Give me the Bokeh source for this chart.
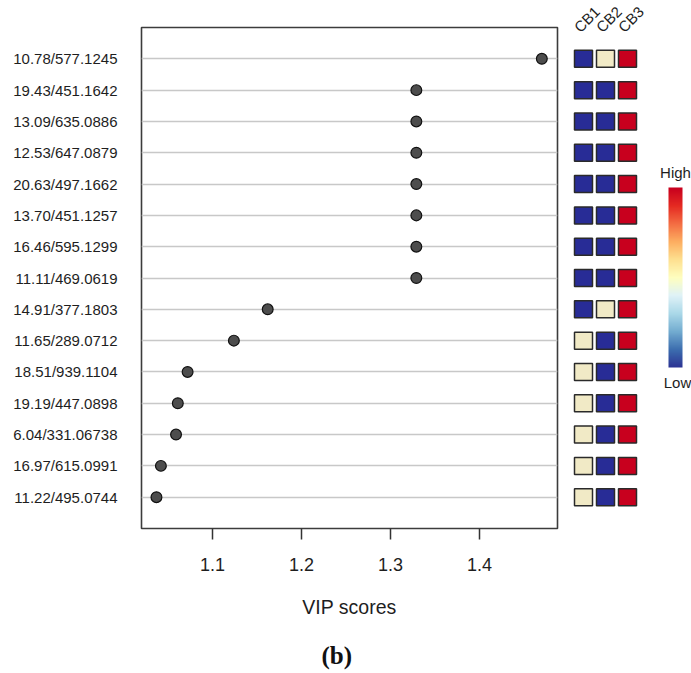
import math
from bokeh.plotting import figure
from bokeh.layouts import row, column
from bokeh.models import Range1d, FixedTicker, Label, ColorBar, LinearColorMapper, ColumnDataSource, Title
from bokeh.palettes import interp_palette
from bokeh.embed import file_html
from bokeh.resources import INLINE

# ---------------- data ----------------
features = [
    "10.78/577.1245", "19.43/451.1642", "13.09/635.0886", "12.53/647.0879",
    "20.63/497.1662", "13.70/451.1257", "16.46/595.1299", "11.11/469.0619",
    "14.91/377.1803", "11.65/289.0712", "18.51/939.1104", "19.19/447.0898",
    "6.04/331.06738", "16.97/615.0991", "11.22/495.0744",
]
vip = [1.470, 1.329, 1.329, 1.329, 1.329, 1.329, 1.329, 1.329,
       1.162, 1.124, 1.072, 1.061, 1.059, 1.042, 1.037]
groups = ["CB1", "CB2", "CB3"]
# relative level per group: 1 = low, 2 = middle, 3 = high
cb1 = [1, 1, 1, 1, 1, 1, 1, 1, 1, 2, 2, 2, 2, 2, 2]
cb2 = [2, 1, 1, 1, 1, 1, 1, 1, 2, 1, 1, 1, 1, 1, 1]
cb3 = [3, 3, 3, 3, 3, 3, 3, 3, 3, 3, 3, 3, 3, 3, 3]
x_ticks = [1.1, 1.2, 1.3, 1.4]

n = len(features)
ypos = [n - i for i in range(n)]

FONT = "Liberation Sans"
TXT = "#1e1e1e"

TOP, FRAME_H, H = 27, 501, 673
px_per_row = FRAME_H / (n + 1)

# ---------------- main dot plot ----------------
p = figure(frame_width=416, frame_height=FRAME_H, x_range=Range1d(1.0202, 1.4876),
           y_range=Range1d(0, n + 1), output_backend="svg", toolbar_location=None,
           min_border_left=141, min_border_right=3, min_border_top=TOP,
           min_border_bottom=H - TOP - FRAME_H)
p.outline_line_color = "#3c3c3c"
p.outline_line_width = 1.6
p.background_fill_color = "white"
p.border_fill_color = "white"

p.xgrid.visible = False
p.ygrid.ticker = FixedTicker(ticks=ypos)
p.ygrid.grid_line_color = "#c8c8c8"
p.ygrid.grid_line_width = 1.3

p.scatter(x=vip, y=ypos, size=10.8, fill_color="#4d4d4d", line_color="#111111", line_width=1.2)

ya = p.yaxis[0]
ya.ticker = FixedTicker(ticks=ypos)
ya.major_label_overrides = {y: f for y, f in zip(ypos, features)}
ya.axis_line_color = None
ya.major_tick_line_color = None
ya.major_tick_out = 0
ya.major_tick_in = 0
ya.minor_tick_line_color = None
ya.major_label_standoff = 24
ya.major_label_text_font = FONT
ya.major_label_text_font_size = "15px"
ya.major_label_text_color = TXT

xa = p.xaxis[0]
xa.ticker = FixedTicker(ticks=x_ticks)
xa.axis_line_color = None
xa.major_tick_out = 11
xa.major_tick_in = 0
xa.major_tick_line_color = "#333333"
xa.major_tick_line_width = 1.5
xa.minor_tick_line_color = None
xa.major_label_standoff = 18
xa.major_label_text_font = FONT
xa.major_label_text_font_size = "18px"
xa.major_label_text_color = TXT
xa.axis_label = "VIP scores"
xa.axis_label_text_font = FONT
xa.axis_label_text_font_style = "normal"
xa.axis_label_text_font_size = "19.5px"
xa.axis_label_text_color = TXT
xa.axis_label_standoff = 22

p.add_layout(Title(text="(b)", align="left", offset=180, standoff=38,
                   text_font="Liberation Serif", text_font_style="bold",
                   text_font_size="25px", text_color="#111111"), "below")

# ---------------- heatmap + colour bar ----------------
unit = 22.0
y_lo = -(H - TOP - FRAME_H) / px_per_row
y_hi = (n + 1) + TOP / px_per_row
h = figure(frame_width=131, frame_height=H, x_range=Range1d(-23 / unit, (131 - 23) / unit),
           y_range=Range1d(y_lo, y_hi), output_backend="svg", toolbar_location=None,
           title=None,
           min_border_left=0, min_border_right=0, min_border_top=0, min_border_bottom=0,
           x_axis_location=None, y_axis_location=None)
h.outline_line_color = None
h.xgrid.visible = False
h.ygrid.visible = False

cell_colors = ["#282c96", "#f1eac6", "#c8001e"]
mapper = LinearColorMapper(palette=cell_colors, low=1, high=3)
xs, ys, vals = [], [], []
for gi, col in enumerate([cb1, cb2, cb3]):
    for yi, v in zip(ypos, col):
        xs.append(gi)
        ys.append(yi)
        vals.append(v)
src = ColumnDataSource(dict(x=xs, y=ys, v=vals))
h.rect(x="x", y="y", width=18, height=17, width_units="screen", height_units="screen",
       source=src, fill_color={"field": "v", "transform": mapper},
       line_color="#2a2a2a", line_width=1.5)

for gi, g in enumerate(groups):
    h.add_layout(Label(x=gi, y=n + 1, x_offset=-7, y_offset=-2, text=g, angle=math.radians(45),
                       text_align="left", text_baseline="alphabetic", text_font=FONT,
                       text_font_size="15px", text_color=TXT))

bar_stops = ["#2c3494", "#3d6fb0", "#74add1", "#abd9e9", "#e0f3f8", "#ffffbf",
             "#fee090", "#fdae61", "#f46d43", "#e52a22", "#c8001e"]
bar_mapper = LinearColorMapper(palette=interp_palette(bar_stops, 256), low=0, high=1)
cbar = ColorBar(color_mapper=bar_mapper, location=(108, H - 367), width=14, height=180,
                padding=0, margin=0, bar_line_color=None, major_tick_line_color=None,
                major_label_text_font_size="0px", background_fill_alpha=0,
                border_line_color=None, label_standoff=0)
h.add_layout(cbar, "center")

h.add_layout(Label(x=115, y=H - 172, x_units="screen", y_units="screen", text="High",
                   text_align="center", text_baseline="middle", text_font=FONT,
                   text_font_size="15px", text_color=TXT))
h.add_layout(Label(x=117, y=H - 382, x_units="screen", y_units="screen", text="Low",
                   text_align="center", text_baseline="middle", text_font=FONT,
                   text_font_size="15px", text_color=TXT))

layout = row(p, column(h))
open("out.html", "w").write(file_html(layout, INLINE))
